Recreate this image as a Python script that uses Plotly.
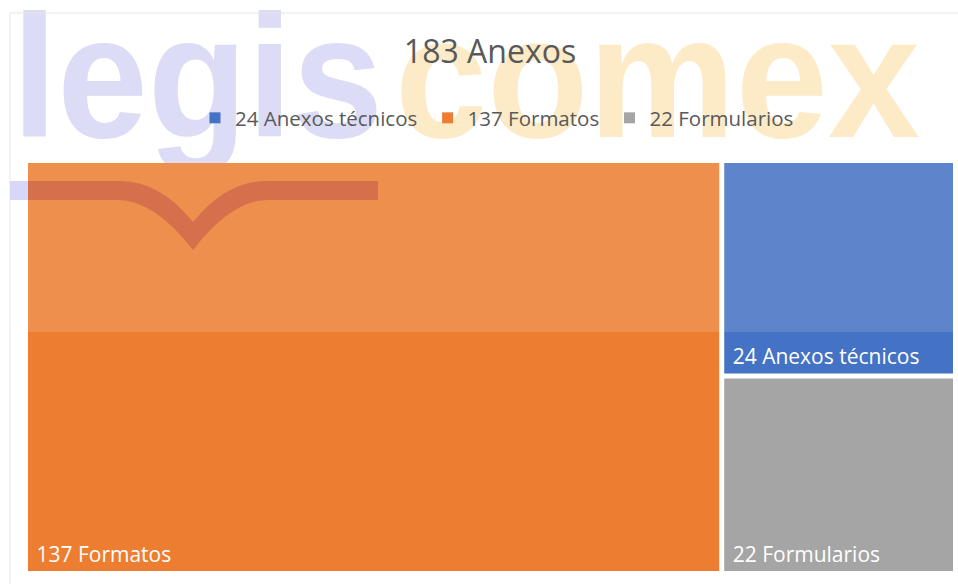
import base64
import plotly.graph_objects as go

title_text = "183 Anexos"
names = ["Formatos", "Anexos técnicos", "Formularios"]
values = [137, 24, 22]
colors = ["#ED7D31", "#4472C4", "#A5A5A5"]
legend_order = [1, 0, 2]

FONT = "Open Sans"
W, H = 958, 584


def px(x):
    return x / W


def py(y):
    return 1 - y / H


fig = go.Figure()

fig.add_trace(go.Treemap(
    labels=names,
    parents=["", "", ""],
    values=values,
    branchvalues="total",
    sort=True,
    marker=dict(colors=colors, line=dict(width=0), pad=dict(t=0, l=0, r=0, b=0)),
    tiling=dict(packing="squarify", pad=5),
    pathbar=dict(visible=False),
    texttemplate="\u00a0%{value} %{label}",
    textposition="bottom left",
    textfont=dict(family=FONT, size=21, color="white"),
    hoverinfo="label+value",
    domain=dict(x=[px(28), px(953)], y=[py(571), py(163)]),
))

for n, i in enumerate(legend_order):
    pad = "\u00a0" if n < len(legend_order) - 1 else ""
    fig.add_trace(go.Scatter(
        x=[None], y=[None], mode="markers",
        marker=dict(symbol="square", size=11, color=colors[i]),
        name=f"{values[i]} {names[i]}{pad}",
        showlegend=True,
    ))

# watermark text as an SVG image placed beneath the chart text
svg = (
    f'<svg xmlns="http://www.w3.org/2000/svg" width="{W}" height="{H}" viewBox="0 0 {W} {H}">'
    '<text x="12" y="137" font-family="Liberation Sans" font-weight="bold" font-size="174" '
    'textLength="371" lengthAdjust="spacingAndGlyphs" fill="#dcdcf6">legis</text>'
    '<text x="395" y="137" font-family="Liberation Sans" font-weight="bold" font-size="174" '
    'textLength="525" lengthAdjust="spacingAndGlyphs" fill="#fdebc8">comex</text>'
    '</svg>'
)
svg_uri = "data:image/svg+xml;base64," + base64.b64encode(svg.encode("utf-8")).decode("ascii")

images = [dict(source=svg_uri, xref="paper", yref="paper", x=0, y=1, sizex=1, sizey=1,
               xanchor="left", yanchor="top", sizing="stretch", layer="below")]

shapes = [
    dict(type="rect", xref="paper", yref="paper", x0=px(10), x1=1.01, y0=-0.01, y1=py(13),
         line=dict(color="#e6e6e6", width=1), fillcolor="rgba(0,0,0,0)", layer="below"),
    dict(type="rect", xref="paper", yref="paper", x0=0, x1=1, y0=py(332), y1=py(163),
         line=dict(width=0), fillcolor="rgba(255,255,255,0.14)", layer="above"),
    dict(type="path", xref="paper", yref="paper",
         path=" ".join([
             f"M {px(28)} {py(181)}", f"L {px(120)} {py(181)}",
             f"Q {px(160)} {py(181)} {px(193)} {py(222)}",
             f"Q {px(226)} {py(181)} {px(266)} {py(181)}",
             f"L {px(378)} {py(181)}", f"L {px(378)} {py(200)}",
             f"L {px(268)} {py(200)}",
             f"Q {px(232)} {py(200)} {px(193)} {py(250)}",
             f"Q {px(154)} {py(200)} {px(118)} {py(200)}",
             f"L {px(28)} {py(200)} Z"]),
         line=dict(width=0), fillcolor="rgba(185,75,75,0.45)", layer="above"),
    dict(type="rect", xref="paper", yref="paper", x0=px(10), x1=px(28), y0=py(200), y1=py(181),
         line=dict(width=0), fillcolor="rgba(205,205,245,0.8)", layer="above"),
]

fig.update_layout(
    width=W, height=H,
    margin=dict(l=0, r=0, t=0, b=0),
    paper_bgcolor="white", plot_bgcolor="rgba(0,0,0,0)",
    title=dict(text=title_text, x=px(490), xanchor="center", y=py(52), yanchor="middle",
               font=dict(family=FONT, size=32, color="#595959")),
    legend=dict(orientation="h", x=px(497), xanchor="center", y=py(118), yanchor="middle",
                font=dict(family=FONT, size=20.5, color="#595959"),
                bgcolor="rgba(0,0,0,0)", itemwidth=30, tracegroupgap=0),
    xaxis=dict(visible=False), yaxis=dict(visible=False),
    shapes=shapes,
    images=images,
)

fig.write_html("out.html", config={"displayModeBar": False},
               post_script="document.body.style.margin='0px';")
